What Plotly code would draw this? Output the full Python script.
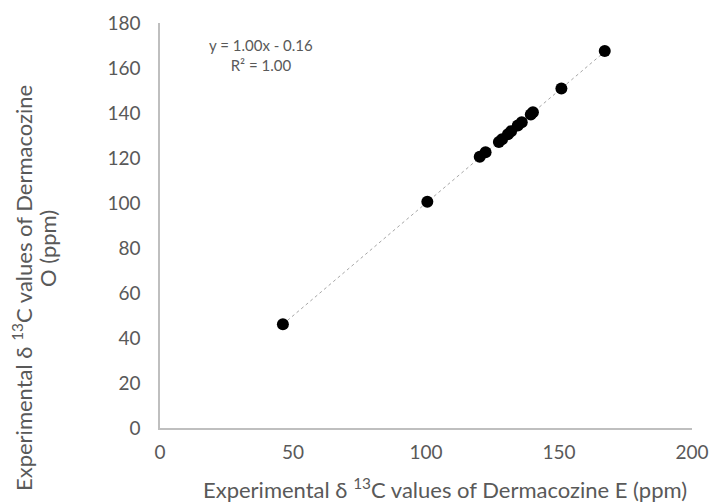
import numpy as np
import plotly.graph_objects as go

exp_E = [46.2, 100.5, 120.2, 122.4, 127.4, 128.6, 130.8, 132.0, 134.5, 136.0, 139.4, 140.2, 150.9, 167.2]
exp_O = [46.1, 100.6, 120.6, 122.6, 127.1, 128.3, 130.6, 131.9, 134.4, 135.9, 139.3, 140.3, 150.9, 167.6]

x_ticks = [0, 50, 100, 150, 200]
y_ticks = [0, 20, 40, 60, 80, 100, 120, 140, 160, 180]

x_title = "Experimental δ <sup>13</sup>C values of Dermacozine E (ppm)"
y_title_1 = "Experimental δ <sup>13</sup>C values of Dermacozine"
y_title_2 = "O (ppm)"
eq_text = "y = 1.00x - 0.16<br>R² = 1.00"

slope, intercept = np.polyfit(exp_E, exp_O, 1)
xs = np.array([min(exp_E), max(exp_E)])

font_family = "Lato, Open Sans, sans-serif"
gray = "#595959"

OFF = 8  # default body margin of the html page
W, H = 717, 502
# target plot area in window pixels: x 160..692, y 23..428
L, T = 160 - OFF, 23 - OFF
R = W - (692 - OFF)
B = H - (428 - OFF)
pw, ph = W - L - R, H - T - B

def px(xp):
    return (xp - OFF - L) / pw

def py(yp):
    return 1 - (yp - OFF - T) / ph

fig = go.Figure()
fig.add_trace(go.Scatter(x=xs, y=slope * xs + intercept, mode="lines",
                         line=dict(color="#a6a6a6", width=1, dash="dot"),
                         hoverinfo="skip", showlegend=False))
fig.add_trace(go.Scatter(x=exp_E, y=exp_O, mode="markers",
                         marker=dict(color="black", size=12),
                         showlegend=False))

fig.add_annotation(x=px(261), y=py(34), xref="paper", yref="paper",
                   text=eq_text, showarrow=False,
                   xanchor="center", yanchor="top", align="center",
                   font=dict(size=15, color=gray, family=font_family))

fig.add_annotation(x=px(445), y=py(488), xref="paper", yref="paper",
                   text=x_title, showarrow=False, xanchor="center", yanchor="middle",
                   font=dict(size=22, color=gray, family=font_family))
fig.add_annotation(x=px(22), y=py(288), xref="paper", yref="paper",
                   text=y_title_1, showarrow=False, textangle=-90,
                   xanchor="center", yanchor="middle",
                   font=dict(size=22, color=gray, family=font_family))
fig.add_annotation(x=px(47), y=py(249), xref="paper", yref="paper",
                   text=y_title_2, showarrow=False, textangle=-90,
                   xanchor="center", yanchor="middle",
                   font=dict(size=22, color=gray, family=font_family))

fig.update_layout(
    width=W, height=H,
    margin=dict(l=L, r=R, t=T, b=B, autoexpand=False),
    plot_bgcolor="white", paper_bgcolor="white",
    font=dict(family=font_family, color=gray, size=18),
    xaxis=dict(range=[0, 200], tickvals=x_ticks, showgrid=False, zeroline=False,
               showline=True, linecolor="#bfbfbf", linewidth=1.5, ticks="",
               automargin=False,
               tickfont=dict(size=19, color=gray), ticklabelstandoff=6),
    yaxis=dict(range=[0, 180], tickvals=y_ticks, showgrid=False, zeroline=False,
               showline=True, linecolor="#bfbfbf", linewidth=1.5, ticks="",
               automargin=False,
               tickfont=dict(size=19, color=gray), ticklabelstandoff=14),
)

fig.write_html("out.html")
